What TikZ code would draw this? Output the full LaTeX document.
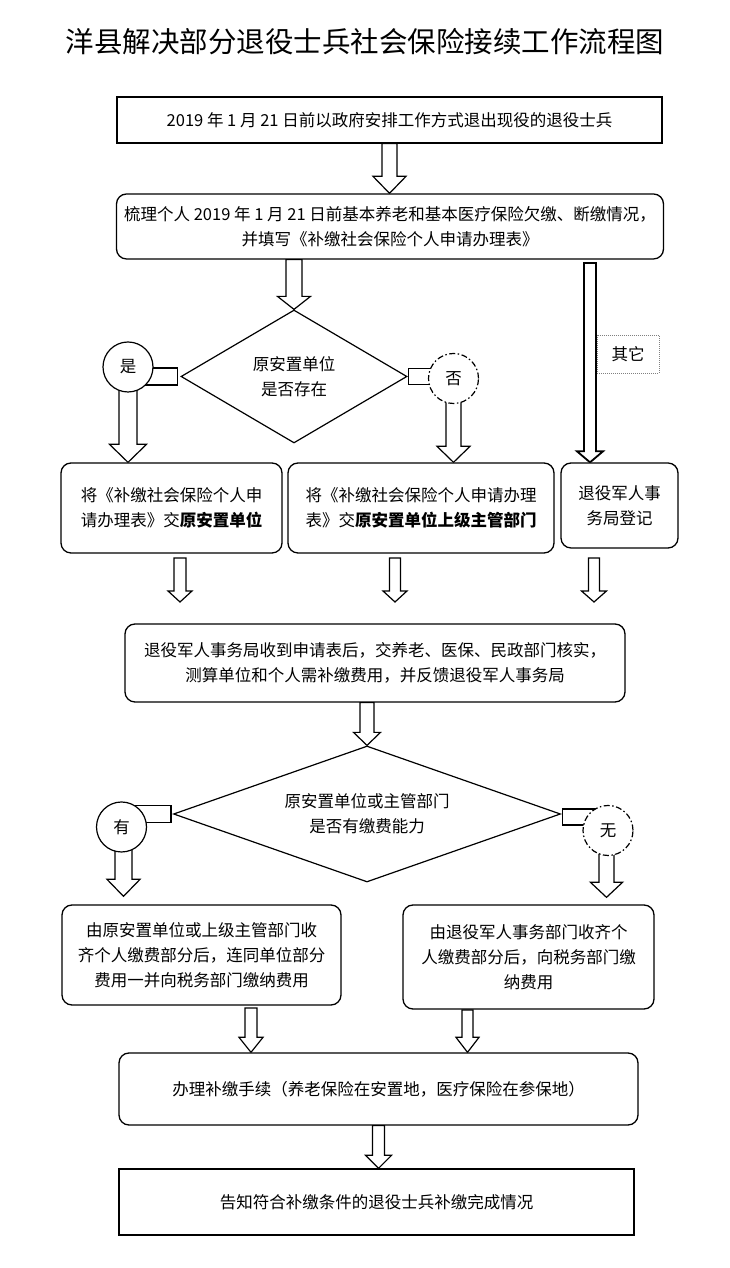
\documentclass[tikz,border=0pt]{standalone}
\usepackage{fontspec}
\setmainfont{Noto Sans CJK SC}
\usetikzlibrary{shapes.geometric,calc,backgrounds}

\newcommand{\blkarrow}[6][]{%
  \draw[blk,#1] let \p1=#2, \p2=#3 in
    (\x1-#4,\y1) -- (\x1+#4,\y1) -- (\x1+#4,\y2+#6) -- (\x1+#5,\y2+#6)
    -- (\x1,\y2) -- (\x1-#5,\y2+#6) -- (\x1-#4,\y2+#6) -- cycle;}

\tikzset{
  box/.style={draw,line width=1.3pt,fill=white,align=center,inner sep=0pt,
    font=\fontsize{16.5}{25}\selectfont},
  rbox/.style={box,rounded corners=10pt},
  decision/.style={diamond,draw,line width=1.2pt,fill=white,align=center,inner sep=0pt,
    font=\fontsize{16.5}{25}\selectfont},
  answer/.style={circle,draw,line width=1.2pt,fill=white,minimum size=50pt,inner sep=0pt,
    font=\fontsize{16.5}{20}\selectfont},
  dashdot/.style={dash pattern=on 6pt off 2.5pt on 1.5pt off 2.5pt},
  blk/.style={draw,line width=1.2pt,fill=white}
}

\begin{document}
\begin{tikzpicture}[x=1pt,y=1pt]
  \useasboundingbox (0,0) rectangle (730,1268);
  \node (title) at (365,1226) {\fontsize{28.5}{30}\selectfont 洋县解决部分退役士兵社会保险接续工作流程图};

  \node[box,minimum width=545pt,minimum height=46pt] (start) at (389.5,1148)
    {2019 年 1 月 21 日前以政府安排工作方式退出现役的退役士兵};
  \node[rbox,minimum width=547pt,minimum height=65pt] (sort) at (390,1041.5)
    {梳理个人 2019 年 1 月 21 日前基本养老和基本医疗保险欠缴、断缴情况，\\并填写《补缴社会保险个人申请办理表》};
  \node[decision,aspect=1.7,minimum width=226pt,minimum height=133pt] (exist) at (294,891.5)
    {原安置单位\\是否存在};
  \node[answer] (yes) at (128,901) {是};
  \node[answer,dashdot] (no) at (453.5,889.5) {否};
  \node[draw,gray,text=black,line width=0.8pt,dash pattern=on 1pt off 1pt,
    minimum width=62pt,minimum height=38pt,font=\fontsize{16.5}{20}\selectfont] (other) at (628,914) {其它};

  \node[rbox,minimum width=221pt,minimum height=90pt] (unit) at (171.5,760)
    {将《补缴社会保险个人申\\请办理表》交\textbf{原安置单位}};
  \node[rbox,minimum width=266pt,minimum height=90pt] (upper) at (421,760)
    {将《补缴社会保险个人申请办理\\表》交\textbf{原安置单位上级主管部门}};
  \node[rbox,minimum width=117pt,minimum height=85pt] (reg) at (619.5,762.5)
    {退役军人事\\务局登记};

  \node[rbox,minimum width=500pt,minimum height=78pt] (check) at (375,605)
    {退役军人事务局收到申请表后，交养老、医保、民政部门核实，\\测算单位和个人需补缴费用，并反馈退役军人事务局};
  \node[decision,aspect=2.85,minimum width=387pt,minimum height=136pt] (ability) at (367,454)
    {原安置单位或主管部门\\是否有缴费能力};
  \node[answer] (has) at (121.5,441) {有};
  \node[answer,dashdot] (hasnot) at (608,437.5) {无};

  \node[rbox,minimum width=279pt,minimum height=100pt] (payunit) at (201.5,313)
    {由原安置单位或上级主管部门收\\齐个人缴费部分后，连同单位部分\\费用一并向税务部门缴纳费用};
  \node[rbox,minimum width=251pt,minimum height=104pt] (payveteran) at (528.5,311)
    {由退役军人事务部门收齐个\\人缴费部分后，向税务部门缴\\纳费用};
  \node[rbox,minimum width=519pt,minimum height=72pt] (handle) at (378.5,179)
    {办理补缴手续（养老保险在安置地，医疗保险在参保地）};
  \node[box,minimum width=515pt,minimum height=66pt] (notify) at (376.5,66)
    {告知符合补缴条件的退役士兵补缴完成情况};

  \coordinate (oth) at (590,1005);
  \coordinate (a1) at (180,710);
  \coordinate (a2) at (395,710);
  \coordinate (a3) at (594,710);
  \coordinate (t1) at (180,666);
  \coordinate (t2) at (395,666);
  \coordinate (t3) at (594,666);
  \coordinate (b1) at (251,260);
  \coordinate (b2) at (467.5,258);

  \begin{scope}[on background layer]
    \blkarrow{(start.south)}{(sort.north)}{7.5pt}{16.5pt}{17pt}
    \blkarrow{(sort.south -| exist.north)}{(exist.north)}{8pt}{16.5pt}{13pt}
    \draw[blk] ($(yes.center |- exist.west)+(0,8.5)$) rectangle ($(exist.west)+(-3,-8.5)$);
    \draw[blk] ($(no.center |- exist.east)+(0,8)$) rectangle ($(exist.east)+(1,-8)$);
    \blkarrow{(yes.center)}{(yes.center |- unit.north)}{9pt}{18.5pt}{18pt}
    \blkarrow{(no.center)}{(no.center |- upper.north)}{7.5pt}{16.5pt}{16pt}
    \blkarrow[line width=1.8pt]{(oth)}{(oth |- reg.north)}{6pt}{13pt}{11pt}
    \blkarrow{(a1)}{(t1)}{6pt}{12pt}{11pt}
    \blkarrow{(a2)}{(t2)}{5.5pt}{12pt}{11pt}
    \blkarrow{(a3)}{(t3)}{5.5pt}{12.5pt}{11pt}
    \blkarrow{(check.south -| ability.north)}{(ability.north)}{7pt}{13.5pt}{13pt}
    \draw[blk] ($(has.center |- ability.west)+(0,8.5)$) rectangle ($(ability.west)+(-2,-8.5)$);
    \draw[blk] ($(hasnot.center |- ability.east)+(0,5)$) rectangle ($(ability.east)+(1,-11)$);
    \blkarrow{($(has.center)+(2,0)$)}{($(has.center |- payunit.north)+(2,8)$)}{8.5pt}{16.5pt}{17pt}
    \blkarrow{($(hasnot.center)+(-1.5,0)$)}{($(hasnot.center |- payveteran.north)+(-1.5,7)$)}{7.5pt}{16pt}{15pt}
    \blkarrow{(b1)}{(b1 |- handle.north)}{6pt}{12pt}{15pt}
    \blkarrow{(b2)}{(b2 |- handle.north)}{5.5pt}{11.5pt}{15pt}
    \blkarrow{(handle.south)}{(notify.north)}{6pt}{13pt}{13pt}
  \end{scope}
\end{tikzpicture}
\end{document}
